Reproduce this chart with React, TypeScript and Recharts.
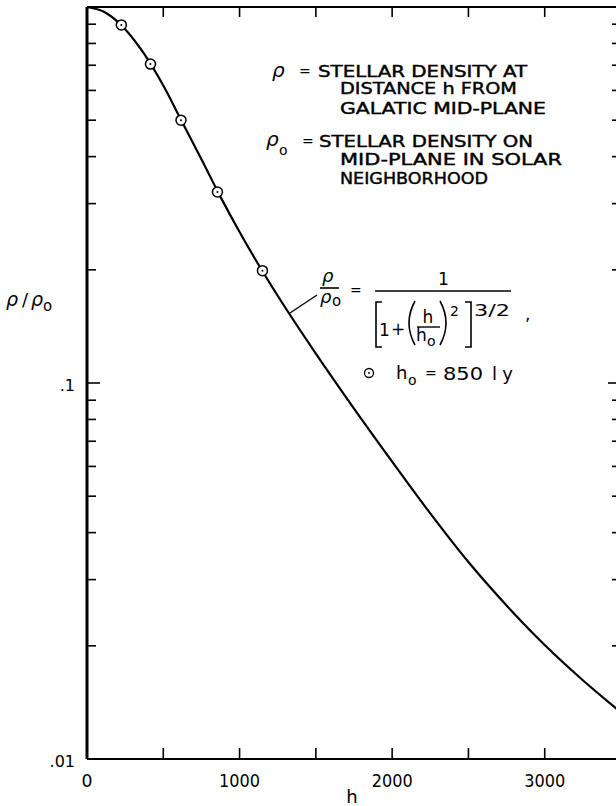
import React from 'react'
import { ComposedChart, Line, Scatter, XAxis, YAxis } from 'recharts'

// curve (h in light years, rho / rho0)
const curveH = [0, 125, 250, 375, 500, 625, 750, 875, 1000, 1250, 1500, 1750, 2000, 2250, 2500, 2750, 3000, 3250, 3500]
const curveRho = [1.0, 0.964, 0.873, 0.75, 0.618, 0.493, 0.3936, 0.3126, 0.252, 0.1706, 0.1197, 0.0855, 0.0618, 0.045, 0.0334, 0.0256, 0.0201, 0.0162, 0.0133]

// circled observations
const pointH = [225, 416, 616, 855, 1150]
const pointRho = [0.896, 0.705, 0.5, 0.322, 0.199]

const xTicks = [0, 500, 1000, 1500, 2000, 2500, 3000, 3500]
const xLabels = [0, 1000, 2000, 3000]
const yTicks = [0.01, 0.02, 0.03, 0.04, 0.05, 0.06, 0.07, 0.08, 0.09, 0.1, 0.2, 0.3, 0.4, 0.5, 0.6, 0.7, 0.8, 0.9, 1]
const yLabelValues = [0.01, 0.1]
const yLabelText = ['.01', '.1']

const curve = curveH.map((h, i) => ({ h, rho: curveRho[i] }))
const points = pointH.map((h, i) => ({ h, rho: pointRho[i] }))

const FONT = '"DejaVu Sans", sans-serif'
const isMajor = (v: number) => Math.abs(v - 0.1) < 1e-9

const BottomTick = (props: any) => {
  const { x, y, payload } = props
  const v = payload.value
  const w = v === 0 ? 11 : 41
  return (
    <g>
      {v > 0 && v < 3500 && <line x1={x} y1={y} x2={x} y2={y - 11} stroke="#000" strokeWidth={1.6} />}
      {xLabels.includes(v) && (
        <text x={x} y={y + 28} textAnchor="middle" fontSize={18} fontFamily={FONT} fill="#000"
          textLength={w} lengthAdjust="spacingAndGlyphs">
          {v}
        </text>
      )}
    </g>
  )
}

const TopTick = (props: any) => {
  const { x, y, payload } = props
  const v = payload.value
  if (v <= 0 || v >= 3500) return <g />
  return <line x1={x} y1={y} x2={x} y2={y + 10} stroke="#000" strokeWidth={1.6} />
}

const LeftTick = (props: any) => {
  const { x, y, payload } = props
  const v = payload.value
  const idx = yLabelValues.findIndex((l) => Math.abs(l - v) < 1e-9)
  const len = isMajor(v) ? 13 : 9
  return (
    <g>
      {v > 0.01 && v < 1 && <line x1={x} y1={y} x2={x + len} y2={y} stroke="#000" strokeWidth={1.6} />}
      {idx >= 0 && (
        <text x={x - 12} y={y + 8} textAnchor="end" fontSize={16} fontFamily={FONT} fill="#000">
          {yLabelText[idx]}
        </text>
      )}
    </g>
  )
}

const RightTick = (props: any) => {
  const { x, y, payload } = props
  const v = payload.value
  if (v <= 0.01 || v >= 1) return <g />
  const len = isMajor(v) ? 13 : 9
  return <line x1={x} y1={y} x2={x - len} y2={y} stroke="#000" strokeWidth={1.6} />
}

const CircleDot = (props: any) => {
  const { cx, cy } = props
  return (
    <g>
      <circle cx={cx} cy={cy} r={5} fill="#fff" stroke="#000" strokeWidth={1.5} />
      <circle cx={cx} cy={cy} r={1} fill="#000" />
    </g>
  )
}

function Notes() {
  const t = { fontFamily: FONT, fill: '#000' }
  const cap = { ...t, fontSize: 15, stroke: '#000', strokeWidth: 0.4, lengthAdjust: 'spacingAndGlyphs' as const }
  return (
    <svg width={616} height={806} style={{ position: 'absolute', left: 0, top: 0, pointerEvents: 'none' }}>
      {/* definitions */}
      <text x={272} y={77} fontSize={20} fontStyle="italic" {...t}>ρ</text>
      <text x={299} y={76} fontSize={14} {...t}>=</text>
      <text x={318} y={77} textLength={209} {...cap}>STELLAR DENSITY AT</text>
      <text x={340} y={94} textLength={177} {...cap}>DISTANCE h FROM</text>
      <text x={340} y={114} textLength={206} {...cap}>GALATIC MID-PLANE</text>

      <text x={266} y={146} fontSize={20} fontStyle="italic" {...t}>ρ</text>
      <text x={279} y={155} fontSize={14} {...t}>o</text>
      <text x={302} y={146} fontSize={14} {...t}>=</text>
      <text x={319} y={147} textLength={214} {...cap}>STELLAR DENSITY ON</text>
      <text x={340} y={165} textLength={222} {...cap}>MID-PLANE IN SOLAR</text>
      <text x={340} y={184} textLength={148} {...cap}>NEIGHBORHOOD</text>

      {/* formula */}
      <line x1={290} y1={313} x2={317} y2={295} stroke="#000" strokeWidth={1.3} />
      <text x={322} y={282} fontSize={18} fontStyle="italic" {...t}>ρ</text>
      <line x1={320} y1={288} x2={339} y2={288} stroke="#000" strokeWidth={1.6} />
      <text x={320} y={303} fontSize={18} fontStyle="italic" {...t}>ρ</text>
      <text x={332} y={306} fontSize={15} {...t}>o</text>
      <text x={350} y={295} fontSize={14} {...t}>=</text>
      <text x={438} y={285} fontSize={17} {...t}>1</text>
      <line x1={375} y1={291} x2={511} y2={291} stroke="#000" strokeWidth={1.6} />
      <path d="M382,302 L376,302 L376,347 L382,347" fill="none" stroke="#000" strokeWidth={1.6} />
      <text x={379} y={336} fontSize={17} {...t}>1</text>
      <text x={391} y={335} fontSize={17} {...t}>+</text>
      <path d="M415,301 Q403,323 415,345" fill="none" stroke="#000" strokeWidth={1.6} />
      <text x={428} y={323} fontSize={17} textAnchor="middle" {...t}>h</text>
      <line x1={417} y1={327} x2={440} y2={327} stroke="#000" strokeWidth={1.4} />
      <text x={416} y={341} fontSize={17} {...t}>h</text>
      <text x={427} y={346} fontSize={14} {...t}>o</text>
      <path d="M440,301 Q452,323 440,345" fill="none" stroke="#000" strokeWidth={1.6} />
      <text x={450} y={316} fontSize={14} {...t}>2</text>
      <path d="M465,302 L471,302 L471,347 L465,347" fill="none" stroke="#000" strokeWidth={1.6} />
      <text x={474} y={316} fontSize={16} textLength={36} lengthAdjust="spacingAndGlyphs" {...t}>3/2</text>
      <text x={525} y={320} fontSize={17} {...t}>,</text>

      {/* key */}
      <circle cx={369} cy={373} r={4.5} fill="#fff" stroke="#000" strokeWidth={1.3} />
      <circle cx={369} cy={373} r={0.9} fill="#000" />
      <text x={396} y={379} fontSize={18} {...t}>h</text>
      <text x={408} y={385} fontSize={14} {...t}>o</text>
      <text x={425} y={378} fontSize={14} {...t}>=</text>
      <text x={443} y={380} fontSize={18} textLength={40} lengthAdjust="spacingAndGlyphs" {...t}>850</text>
      <text x={492} y={380} fontSize={18} textLength={21} lengthAdjust="spacing" {...t}>l y</text>

      {/* axis titles */}
      <text x={6} y={306} fontSize={19} fontStyle="italic" {...t}>ρ</text>
      <text x={22} y={306} fontSize={18} {...t}>/</text>
      <text x={31} y={306} fontSize={19} fontStyle="italic" {...t}>ρ</text>
      <text x={43} y={311} fontSize={15} {...t}>o</text>
      <text x={352} y={803} fontSize={18} textAnchor="middle" {...t}>h</text>
    </svg>
  )
}

export default function App() {
  return (
    <div style={{ position: 'fixed', left: 0, top: 0, width: 616, height: 806, overflow: 'hidden', background: '#fff' }}>
      <ComposedChart width={642} height={806} data={curve} margin={{ top: 6, right: 20, bottom: 46, left: 86 }}>
        <XAxis
          xAxisId="b"
          type="number"
          dataKey="h"
          domain={[0, 3500]}
          ticks={xTicks}
          interval={0}
          allowDataOverflow
          height={1}
          tickSize={0}
          tickMargin={0}
          tickLine={false}
          tick={BottomTick}
          axisLine={{ stroke: '#000', strokeWidth: 2 }}
        />
        <XAxis
          xAxisId="t"
          orientation="top"
          type="number"
          dataKey="h"
          domain={[0, 3500]}
          ticks={xTicks}
          interval={0}
          allowDataOverflow
          height={1}
          tickSize={0}
          tickMargin={0}
          tickLine={false}
          tick={TopTick}
          axisLine={{ stroke: '#000', strokeWidth: 2 }}
        />
        <YAxis
          yAxisId="l"
          scale="log"
          type="number"
          domain={[0.01, 1]}
          ticks={yTicks}
          interval={0}
          allowDataOverflow
          width={1}
          tickSize={0}
          tickMargin={0}
          tickLine={false}
          tick={LeftTick}
          axisLine={{ stroke: '#000', strokeWidth: 3 }}
        />
        <YAxis
          yAxisId="r"
          orientation="right"
          scale="log"
          type="number"
          domain={[0.01, 1]}
          ticks={yTicks}
          interval={0}
          allowDataOverflow
          width={1}
          tickSize={0}
          tickMargin={0}
          tickLine={false}
          tick={RightTick}
          axisLine={{ stroke: '#000', strokeWidth: 2 }}
        />
        <Line
          xAxisId="b"
          yAxisId="l"
          dataKey="rho"
          type="monotone"
          stroke="#000"
          strokeWidth={2.2}
          dot={false}
          activeDot={false}
          isAnimationActive={false}
        />
        <Scatter
          xAxisId="b"
          yAxisId="l"
          data={points}
          dataKey="rho"
          shape={CircleDot}
          isAnimationActive={false}
        />
      </ComposedChart>
      <Notes />
    </div>
  )
}
